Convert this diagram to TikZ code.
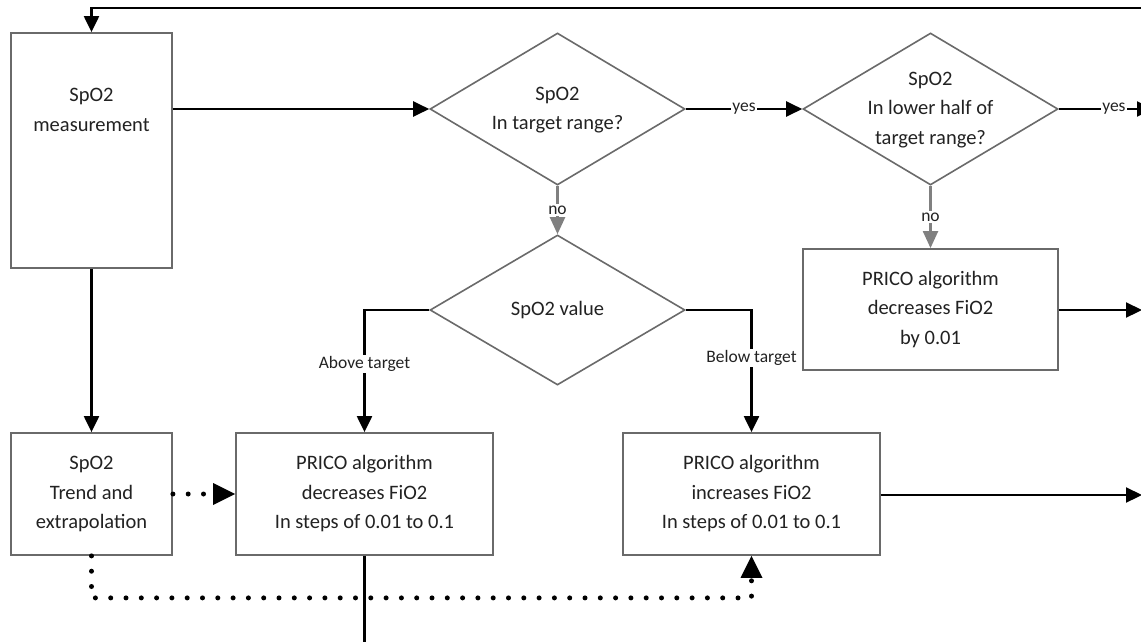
\documentclass[tikz,border=0pt]{standalone}
\usepackage{fontspec}
\setmainfont{Carlito}
\usetikzlibrary{arrows.meta,shapes.geometric}
\definecolor{boxline}{HTML}{6A6A6A}
\definecolor{txt}{HTML}{222222}
\definecolor{greyarrow}{HTML}{808080}
\begin{document}
\begin{tikzpicture}[x=1pt,y=-1pt,
  box/.style={draw=boxline,line width=1.8pt,rectangle,inner sep=0pt,fill=white},
  dia/.style={draw=boxline,line width=1.6pt,diamond,inner sep=0pt,fill=white},
  txtnode/.style={align=center,text=txt,font=\fontsize{20.5}{29.5}\selectfont,inner sep=0pt},
  lab/.style={fill=white,text=txt,inner sep=1.5pt,font=\fontsize{17.5}{20}\selectfont},
  arr/.style={line width=2.2pt,black,-{Triangle[length=16pt,width=15pt]}},
  garr/.style={line width=2.2pt,greyarrow,-{Triangle[length=17pt,width=15pt]}},
  plain/.style={line width=2.2pt,black},
  dotarr/.style={line width=5pt,line cap=round,dash pattern=on 0pt off 15.3pt,-{Triangle[length=22pt,width=22pt,line width=0pt]}}
]
\useasboundingbox (0,0) rectangle (1141,641);
\clip (0,0) rectangle (1141,641);

% boxes
\node[box,minimum width=161pt,minimum height=235pt] (meas) at (91.5,150.5) {};
\node[txtnode] (meastext) at (91.5,110) {SpO2\\measurement};
\node[box,minimum width=161pt,minimum height=122pt] (trend) at (91.5,494) {};
\node[txtnode] (trendtext) at (trend.center) {SpO2\\Trend and\\extrapolation};
\node[box,minimum width=257pt,minimum height=122pt] (dec) at (364.5,494) {};
\node[txtnode] (dectext) at (dec.center) {PRICO algorithm\\decreases FiO2\\In steps of 0.01 to 0.1};
\node[box,minimum width=257pt,minimum height=122pt] (inc) at (751.5,494) {};
\node[txtnode] (inctext) at (inc.center) {PRICO algorithm\\increases FiO2\\In steps of 0.01 to 0.1};
\node[box,minimum width=255pt,minimum height=121pt] (p1) at (930.5,309.5) {};
\node[txtnode] (p1text) at (p1.center) {PRICO algorithm\\decreases FiO2\\by 0.01};

% diamonds
\node[dia,minimum width=255pt,minimum height=152pt] (d1) at (557.5,109) {};
\node[txtnode] (d1text) at (557.5,110) {SpO2\\In target range?};
\node[dia,minimum width=255pt,minimum height=152pt] (d2) at (930.5,109) {};
\node[txtnode] (d2text) at (930.5,110) {SpO2\\In lower half of\\target range?};
\node[dia,minimum width=255pt,minimum height=150pt] (d3) at (557.5,310) {};
\node[txtnode] (d3text) at (d3.center) {SpO2 value};

% free ends
\coordinate (topR) at (1160,8);
\coordinate (outY) at (1153,109);
\coordinate (outP1) at (1142,310);
\coordinate (outInc) at (1142,495);
\coordinate (down) at (364.5,660);

% connectors
\draw[arr] (topR) -| (meas.north);
\draw[arr] (meas.east |- d1.west) -- (d1.west);
\draw[arr] (d1.east) -- node[lab]{yes} (d2.west);
\draw[arr] (d2.east) -- node[lab,pos=0.585]{yes} (outY);
\draw[garr] (d1.south) -- node[lab]{no} (d3.north);
\draw[garr] (d2.south) -- node[lab]{no} (p1.north);
\draw[arr] (d3.west) -| node[lab,pos=0.72]{Above target} (dec.north);
\draw[arr] (d3.east) -| node[lab,pos=0.695]{Below target} (inc.north);
\draw[arr] (meas.south) -- (trend.north);
\draw[arr] (p1.east |- outP1) -- (outP1);
\draw[arr] (inc.east |- outInc) -- (outInc);
\draw[plain] (dec.south) -- (down);
\draw[dotarr] (trend.east) -- (dec.west);
\draw[dotarr] (trend.south) -- ++(0,42) -| (inc.south);
\end{tikzpicture}
\end{document}
